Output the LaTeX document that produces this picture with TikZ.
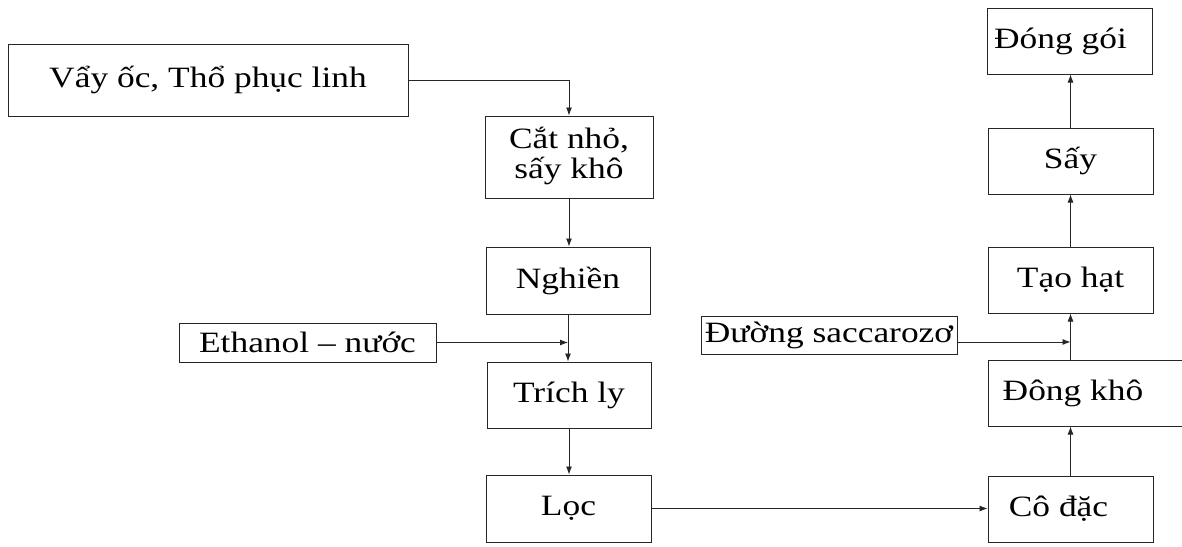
\documentclass[tikz,border=0pt]{standalone}
\usepackage{fontspec}
\usepackage{graphicx}
\setmainfont{Liberation Serif}
\usetikzlibrary{arrows.meta}
\newcommand{\tx}[1]{\scalebox{1.2}[1]{#1}}
\begin{document}
\begin{tikzpicture}[x=1pt,y=-1pt,
  box/.style={draw=black!85,line width=1pt,inner sep=0pt,font=\fontsize{29.5}{30}\selectfont},
  lbl/.style={inner sep=0pt,font=\fontsize{29.5}{30}\selectfont},
  arr/.style={draw=black!85,line width=0.9pt,-{Latex[length=8pt,width=6pt]}}]
\useasboundingbox (0,0) rectangle (1182,546);
\fill[white] (0,0) rectangle (1182,546);
\begin{scope}
\clip (0,0) rectangle (1182,546);
% left column
\node[box,minimum width=400,minimum height=72] (v) at (208,80) {\tx{Vẩy ốc, Thổ phục linh}};
\node[box,minimum width=168,minimum height=82] (cn) at (569,157) {\tx{\begin{tabular}{@{}c@{}}Cắt nhỏ,\\ sấy khô\end{tabular}}};
\node[box,minimum width=164,minimum height=67] (ng) at (568,280.5) {\tx{Nghiền}};
\node[box,minimum width=257,minimum height=39] (eth) at (307.5,342.5) {\tx{Ethanol – nước}};
\node[box,minimum width=164,minimum height=66] (tl) at (569,395) {\tx{Trích ly}};
\node[box,minimum width=165,minimum height=67] (loc) at (568.5,508.5) {\tx{Lọc}};
% right column
\node[box,minimum width=165,minimum height=66] (cd) at (1070.5,509) {\tx{Cô đặc}\hspace*{24pt}};
\node[box,minimum width=240,minimum height=66] (dk) at (1108,393) {};
\node[lbl] (dkt) at (1073,393) {\tx{Đông khô}};
\node[box,minimum width=256,minimum height=38] (dg) at (829,335) {\tx{Đường saccarozơ}};
\node[box,minimum width=165,minimum height=66] (th) at (1070.5,280) {\tx{Tạo hạt}};
\node[box,minimum width=165,minimum height=66] (say) at (1070.5,161) {\tx{Sấy}};
\node[box,minimum width=165,minimum height=66] (dgoi) at (1069.5,41) {\tx{Đóng gói}\hspace*{18pt}};
% connectors
\draw[arr] (v.east) -| (cn.north);
\draw[arr] (cn.south) -- (cn.south |- ng.north);
\draw[arr] (ng.south) -- (ng.south |- tl.north);
\draw[arr] (eth.east) -- (eth.east -| ng.south);
\draw[arr] (tl.south) -- (tl.south |- loc.north);
\draw[arr] (loc.east) -- (loc.east -| cd.west);
\draw[arr] (cd.north) -- (cd.north |- dk.south);
\draw[arr] (th.south |- dk.north) -- (th.south);
\coordinate (dgo) at ([yshift=-7pt]dg.east);
\draw[arr] (dgo) -- (dgo -| th.south);
\draw[arr] (th.north) -- (say.south);
\draw[arr] (say.north) -- (say.north |- dgoi.south);
\end{scope}
\end{tikzpicture}
\end{document}
